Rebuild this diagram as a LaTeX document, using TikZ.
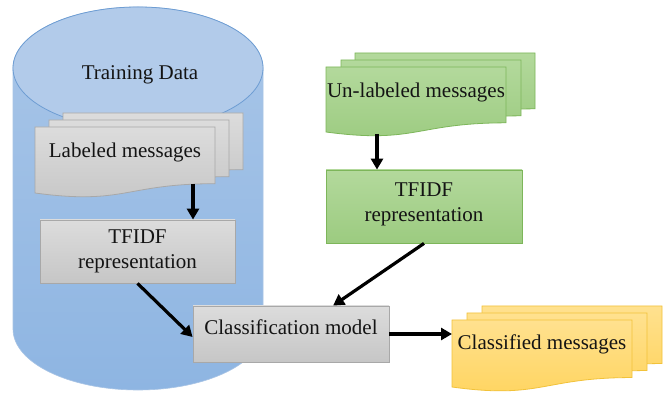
\documentclass[tikz,border=0pt]{standalone}
\usepackage{fontspec}
\setmainfont{Liberation Serif}
\usetikzlibrary{arrows.meta,calc}

\definecolor{cylTop}{HTML}{B2CBEA}
\definecolor{cylA}{HTML}{A9C6E8}
\definecolor{cylB}{HTML}{8EB5E2}
\definecolor{cylLine}{HTML}{6E9DD3}
\definecolor{grayA}{HTML}{DCDCDC}
\definecolor{grayB}{HTML}{C6C6C6}
\definecolor{grayLine}{HTML}{A8A8A8}
\definecolor{greenA}{HTML}{B3D99C}
\definecolor{greenB}{HTML}{9CCB80}
\definecolor{greenLine}{HTML}{7DB65A}
\definecolor{yelA}{HTML}{FFE18F}
\definecolor{yelB}{HTML}{FFD45E}
\definecolor{yelLine}{HTML}{F2C23A}
\definecolor{ink}{HTML}{141414}

% document sheet with a wavy bottom: top-left corner, width, left height
\newcommand\docsheet[5]{%
  \path[#1] (#2,#3) -- ({#2+#4},#3) -- ({#2+#4},{#3-0.859*#5})
    .. controls ({#2+#4/2},{#3-0.859*#5}) and ({#2+#4/2},{#3-1.186*#5}) ..
    (#2,{#3-#5}) -- cycle;}

\tikzset{
  x=1pt, y=1pt,
  lbl/.style={font=\fontsize{21}{25}\selectfont, text=ink, align=center, inner sep=0pt},
  graysheet/.style={draw=grayLine, line width=0.8pt, top color=grayA, bottom color=grayB},
  greensheet/.style={draw=greenLine, line width=0.8pt, top color=greenA, bottom color=greenB},
  yelsheet/.style={draw=yelLine, line width=0.8pt, top color=yelA, bottom color=yelB},
  graybox/.style={graysheet, rectangle, inner sep=0pt},
  greenbox/.style={greensheet, rectangle, inner sep=0pt},
  flow/.style={draw=black, line width=3.2pt, -{Triangle[length=11pt,width=12pt]}},
}

\begin{document}
\begin{tikzpicture}
\useasboundingbox[fill=white] (0,0) rectangle (671,393);

% training data cylinder
\path[top color=cylA, bottom color=cylB, draw=cylLine!60, line width=0.6pt]
  (13,325) -- (13,64) arc[start angle=180, end angle=360, x radius=125, y radius=61]
  -- (263,325) arc[start angle=0, end angle=180, x radius=125, y radius=61] -- cycle;
\path[fill=cylTop, draw=cylLine, line width=0.8pt] (138,325) ellipse[x radius=125, y radius=61];
\node[lbl] (train) at (140,318) {Training Data};

% labeled messages stack
\docsheet{graysheet}{63}{280}{180}{66}
\docsheet{graysheet}{49}{273}{180}{66}
\docsheet{graysheet}{35}{266}{180}{66}
\node[lbl] (ldoc) at (125,241) {Labeled messages};
\coordinate (ldocout) at (193,209);

% un-labeled messages stack
\docsheet{greensheet}{355}{340}{180}{65}
\docsheet{greensheet}{341}{333}{180}{65}
\docsheet{greensheet}{326}{326}{180}{65}
\node[lbl] (udoc) at (416,301) {Un-labeled messages};
\coordinate (udocout) at (377,259);

% classified messages stack
\docsheet{yelsheet}{482}{87}{180}{67}
\docsheet{yelsheet}{467}{80}{180}{67}
\docsheet{yelsheet}{452}{73}{180}{67}
\node[lbl] (cdoc) at (542,49) {Classified messages};
\coordinate (cdocin) at (452,59);

% processing boxes
\node[graybox, minimum width=195, minimum height=63] (gtf) at (137.5,141.5) {};
\node[lbl] at (gtf.center) {TFIDF\\representation};
\node[greenbox, minimum width=196, minimum height=73] (ntf) at (424,186.5) {};
\node[lbl] at ([yshift=2pt]ntf.center) {TFIDF\\representation};
\node[graybox, minimum width=196, minimum height=56] (cls) at (291,59) {};
\node[lbl] at ([yshift=7pt]cls.center) {Classification model};

% connectors
\draw[flow] (ldocout) -- (ldocout |- gtf.north);
\draw[flow] (udocout) -- (udocout |- ntf.north);
\draw[flow] (gtf.south) -- ([yshift=-3pt]cls.west);
\draw[flow] (ntf.south) -- ($(cls.north west)!0.714!(cls.north east)$);
\draw[flow] (cls.east) -- (cdocin);
\end{tikzpicture}
\end{document}
